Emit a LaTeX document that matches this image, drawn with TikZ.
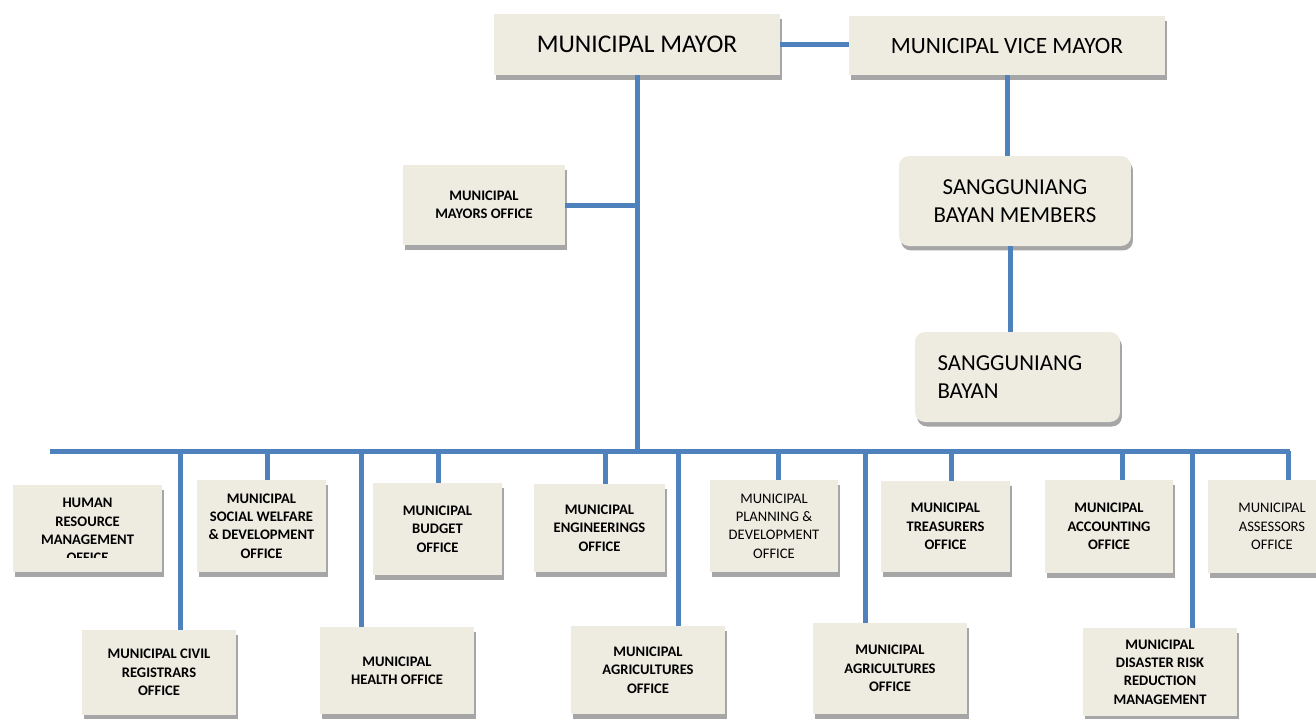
\documentclass[tikz,border=0pt]{standalone}
\usepackage{fontspec}
\setmainfont{Carlito}
\usepackage{xcolor}
\usetikzlibrary{positioning}
\usetikzlibrary{shadows}
\definecolor{boxtan}{HTML}{EEECE1}
\definecolor{linkblue}{HTML}{4F81BD}
\tikzset{shadowed/.style={drop shadow={shadow xshift=0.04cm, shadow yshift=-0.09cm, fill=black!35, opacity=1}},
officetext/.style={inner sep=2pt, align=center, font=\bfseries\fontsize{8.3}{10.4}\selectfont},
office/.style={officetext, shadowed, fill=boxtan, minimum width=2.58cm, minimum height=1.84cm},
plainoffice/.style={office, font=\fontsize{8.3}{10.4}\selectfont},
lower/.style={minimum width=3.08cm, minimum height=1.76cm},
head/.style={shadowed, fill=boxtan, align=center, font=\fontsize{14.5}{17}\selectfont},
council/.style={shadowed, fill=boxtan, rounded corners=0.2cm, align=center, font=\fontsize{13}{16}\selectfont},
link/.style={draw=linkblue, line width=0.1cm}}

\begin{document}
\begin{tikzpicture}[x=0.02cm, y=-0.02cm]
\useasboundingbox (0,0) rectangle (1316,718);

\node[head, minimum width=5.72cm, minimum height=1.22cm] (mayor) at (637,44.5) {MUNICIPAL MAYOR};
\node[head, font=\fontsize{13.3}{16}\selectfont, minimum width=6.32cm, minimum height=1.18cm] (vice) at (1007,45.5) {MUNICIPAL VICE MAYOR};
\node[office, minimum width=3.24cm, minimum height=1.6cm] (mayoff) at (484,205) {MUNICIPAL\\MAYORS OFFICE};
\node[council, minimum width=4.64cm, minimum height=1.8cm] (sbm) at (1015,201) {SANGGUNIANG\\BAYAN MEMBERS};
\node[council, align=left, text width=3.2cm, inner xsep=0.45cm, minimum height=1.8cm] (sb) at (1017.5,377) {SANGGUNIANG\\BAYAN};

\coordinate (bus) at (mayor.south |- 0,451);
\coordinate (busL) at (50,451);
\coordinate (busR) at (1290,451);

% first row of offices
\node[office, minimum width=2.98cm, minimum height=1.74cm] (hr) at (87.5,528.5) {};
\begin{scope}
  \clip (hr.north west) rectangle ([yshift=0.3cm]hr.south east);
  \node[officetext] (hrtext) at ([yshift=-0.04cm]hr.center) {HUMAN\\RESOURCE\\MANAGEMENT\\OFFICE};
\end{scope}
\node[office] (sw) at (261.5,526) {MUNICIPAL\\SOCIAL WELFARE\\\& DEVELOPMENT\\OFFICE};
\node[office] (budget) at (437.5,529) {MUNICIPAL\\BUDGET\\OFFICE};
\node[office, minimum width=2.62cm, minimum height=1.76cm] (eng) at (599.5,528) {MUNICIPAL\\ENGINEERINGS\\OFFICE};
\node[plainoffice, minimum width=2.56cm] (plan) at (774,526) {MUNICIPAL\\PLANNING \&\\DEVELOPMENT\\OFFICE};
\node[office, minimum height=1.82cm] (treas) at (945.5,526.5) {MUNICIPAL\\TREASURERS\\OFFICE};
\node[office, minimum width=2.56cm, minimum height=1.86cm] (acct) at (1109,526.5) {MUNICIPAL\\ACCOUNTING\\OFFICE};
\node[plainoffice, minimum width=2.56cm, minimum height=1.86cm] (assess) at (1272,526.5) {MUNICIPAL\\ASSESSORS\\OFFICE};

% second row of offices
\node[office, lower, minimum height=1.7cm] (civil) at (159,672.5) {MUNICIPAL CIVIL\\REGISTRARS\\OFFICE};
\node[office, lower, minimum height=1.74cm] (health) at (397,670.5) {MUNICIPAL\\HEALTH OFFICE};
\node[office, lower] (agri) at (648,670) {MUNICIPAL\\AGRICULTURES\\OFFICE};
\node[office, lower, minimum height=1.82cm] (agrib) at (890,668.5) {MUNICIPAL\\AGRICULTURES\\OFFICE};
\node[office, lower] (drrm) at (1160,672) {MUNICIPAL\\DISASTER RISK\\REDUCTION\\MANAGEMENT};

\draw[link] (mayor.east) -- (mayor.east -| vice.west);
\draw[link] (mayor.south) -- (bus);
\draw[link] (mayoff.east) -- (mayoff.east -| bus);
\draw[link] (vice.south) -- (vice.south |- sbm.north);
\draw[link] ([xshift=-0.1cm]sbm.south) -- ([xshift=-0.1cm]sbm.south |- sb.north);
\draw[link] (busL) -- (busR);
\foreach \n/\dx in {sw/5.5, budget/0.5, eng/5.5, plan/4, treas/5.5, acct/13, assess/16,
                    civil/21, health/-36, agri/30, agrib/-25, drrm/32}
  \draw[link] ([xshift=\dx*0.02cm]\n.north) -- ([xshift=\dx*0.02cm]\n.north |- bus);
\end{tikzpicture}
\end{document}
